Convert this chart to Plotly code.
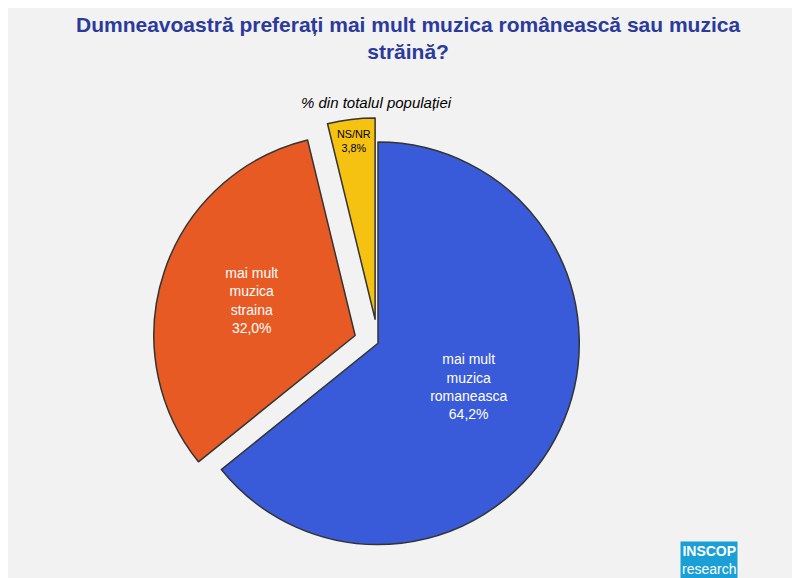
import plotly.graph_objects as go

labels = ["mai mult<br>muzica<br>romaneasca", "mai mult<br>muzica<br>straina", "NS/NR"]
values = [64.2, 32.0, 3.8]
texts = ["64,2%", "32,0%", "3,8%"]
colors = ["#3a5bd9", "#e85a24", "#f5c211"]
pulls = [0, 0.12, 0.12]

fig = go.Figure(go.Pie(
    labels=labels, values=values, sort=False, direction="clockwise", rotation=0,
    marker=dict(colors=colors, line=dict(color="#333", width=1.5)),
    pull=pulls,
    text=[l + "<br>" + t for l, t in zip(labels, texts)],
    textinfo="text", textposition="inside", insidetextorientation="horizontal",
    textfont=dict(family="Liberation Sans", size=14, color=["white", "white", "black"]),
    domain=dict(x=[0.175, 0.75], y=[0.03, 0.81]),
    showlegend=False, hoverinfo="skip",
))
fig.update_layout(
    width=800, height=578, margin=dict(l=0, r=0, t=0, b=0),
    paper_bgcolor="#f2f2f2",
    annotations=[
        dict(text="<b>Dumneavoastră preferați mai mult muzica românească sau muzica<br>străină?</b>",
             x=0.5, y=0.995, xref="paper", yref="paper", xanchor="center", yanchor="top",
             showarrow=False, font=dict(family="Liberation Sans", size=21, color="#2b3a9c")),
        dict(text="<i>% din totalul populației</i>", x=0.46, y=0.855, xref="paper", yref="paper",
             showarrow=False, font=dict(family="Liberation Sans", size=15, color="black")),
        dict(text="<b>INSCOP</b><br>research", x=0.84, y=0.012, xref="paper", yref="paper",
             xanchor="left", yanchor="bottom", showarrow=False, bgcolor="#1a9fd6",
             font=dict(family="Liberation Sans", size=14, color="white")),
    ],
    shapes=[dict(type="line", xref="paper", yref="paper", x0=0, x1=0.84, y0=0.003, y1=0.003,
                 line=dict(color="#2b3a9c", width=4))],
)
fig.write_html("out.html")
